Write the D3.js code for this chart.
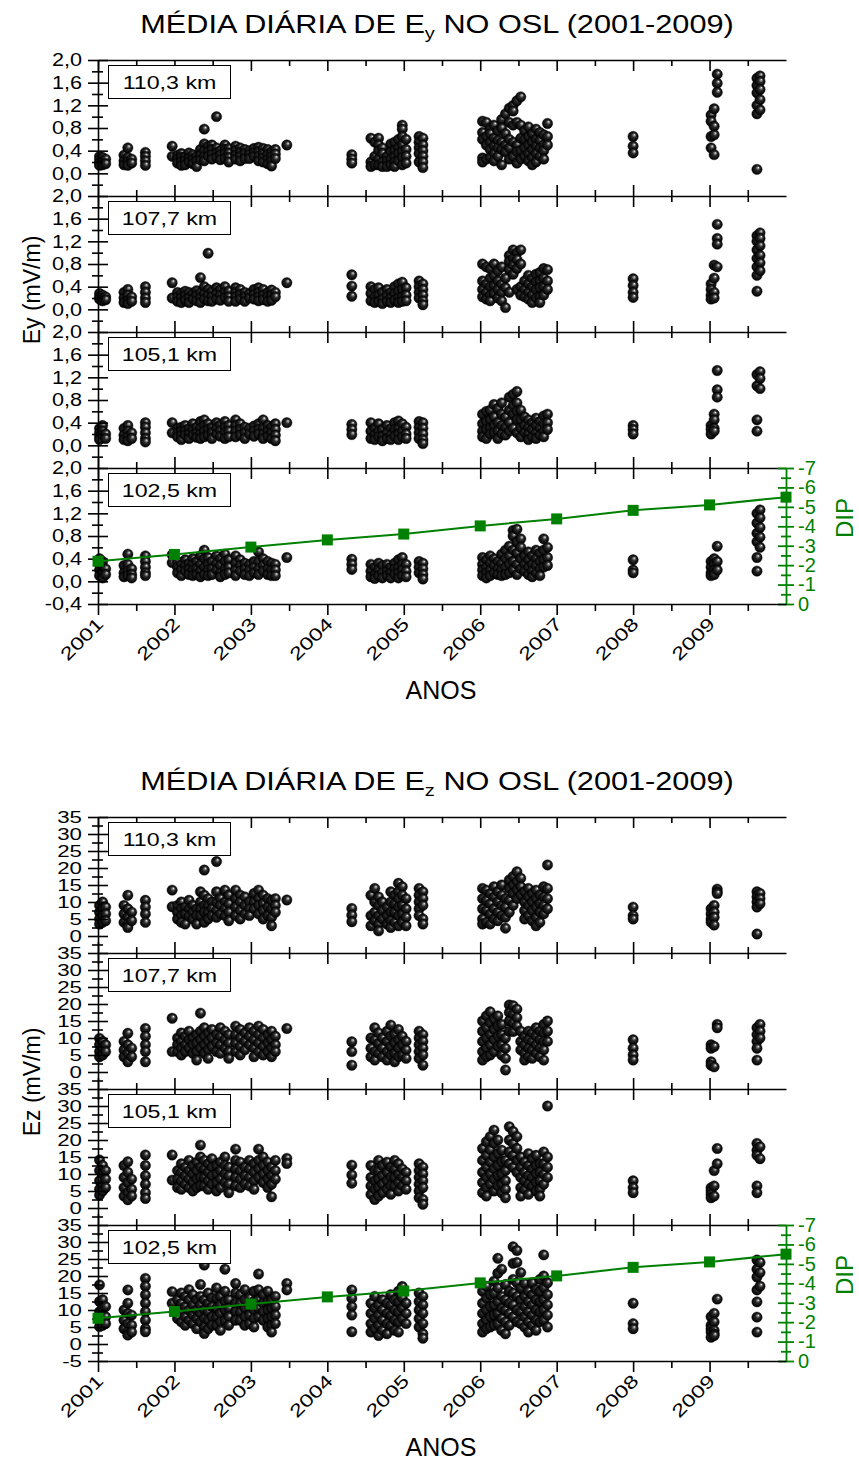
<!DOCTYPE html>
<html>
<head>
<meta charset="utf-8">
<script src="https://cdn.jsdelivr.net/npm/d3@7"></script>
<style>
    body { margin: 0; background: #fff; }
    svg { display: block; font-family: "Liberation Sans", Arial, sans-serif; }
</style>
</head>
<body>
<div id="chart"></div>
<script>
(function () {
    var width = 859,
        height = 1461;

    // x axis years and DIP values (one per year)
    var years = [2001, 2002, 2003, 2004, 2005, 2006, 2007, 2008, 2009];
    var dipYears = [2001, 2002, 2003, 2004, 2005, 2006, 2007, 2008, 2009, 2010];
    var dipValues = [-2.2, -2.55, -2.93, -3.3, -3.6, -4.02, -4.38, -4.82, -5.1, -5.5];
    var dipTicks = [0, -1, -2, -3, -4, -5, -6, -7];
    var heightLabels = ["110,3 km", "107,7 km", "105,1 km", "102,5 km"];

    var eyTicks = [-0.4, 0, 0.4, 0.8, 1.2, 1.6, 2.0];
    var eyMinor = [-0.2, 0.2, 0.6, 1.0, 1.4, 1.8];
    var ezTicks = [-5, 0, 5, 10, 15, 20, 25, 30, 35];
    var ezMinor = [-2.5, 2.5, 7.5, 12.5, 17.5, 22.5, 27.5, 32.5];

    // daily means, one column per date: [year, value, value, ...]
    var ey110 = [
        [2001.02, 0.3, 0.24, 0.18, 0.14], [2001.06, 0.28, 0.2, 0.15], [2001.1, 0.25, 0.17],
        [2001.34, 0.32, 0.22, 0.15], [2001.39, 0.45, 0.28, 0.2, 0.14], [2001.44, 0.25, 0.18],
        [2001.62, 0.37, 0.3, 0.22, 0.14], [2001.97, 0.48, 0.3],
        [2002.04, 0.32, 0.25, 0.18], [2002.09, 0.35, 0.28, 0.2, 0.14], [2002.14, 0.3, 0.22, 0.15],
        [2002.19, 0.36, 0.27, 0.2], [2002.24, 0.33, 0.25, 0.17], [2002.29, 0.3, 0.22, 0.12],
        [2002.34, 0.42, 0.32, 0.24], [2002.39, 0.78, 0.52, 0.4, 0.3, 0.22], [2002.44, 0.48, 0.38, 0.3],
        [2002.49, 0.5, 0.42, 0.33, 0.25], [2002.55, 1.0, 0.45, 0.36, 0.28], [2002.6, 0.4, 0.32, 0.24],
        [2002.66, 0.5, 0.42, 0.35, 0.26], [2002.71, 0.44, 0.36, 0.28, 0.2], [2002.8, 0.48, 0.4, 0.32, 0.25],
        [2002.86, 0.45, 0.37, 0.3, 0.22], [2002.92, 0.42, 0.35, 0.26], [2002.98, 0.4, 0.33, 0.26],
        [2003.04, 0.44, 0.36, 0.3], [2003.1, 0.46, 0.38, 0.3, 0.22], [2003.16, 0.44, 0.35, 0.27, 0.2],
        [2003.22, 0.42, 0.33, 0.25, 0.17], [2003.27, 0.38, 0.3, 0.22, 0.13], [2003.32, 0.42, 0.34, 0.26],
        [2003.47, 0.5], [2004.32, 0.33, 0.25, 0.18],
        [2004.57, 0.62, 0.2, 0.12], [2004.62, 0.55, 0.3, 0.15], [2004.67, 0.62, 0.5, 0.4, 0.25, 0.15],
        [2004.72, 0.45, 0.35, 0.2, 0.12], [2004.78, 0.3, 0.22, 0.12], [2004.83, 0.52, 0.38, 0.25, 0.15],
        [2004.88, 0.55, 0.4, 0.3, 0.2, 0.12], [2004.93, 0.6, 0.45, 0.35, 0.22],
        [2004.98, 0.85, 0.78, 0.65, 0.5, 0.38, 0.28, 0.15], [2005.03, 0.6, 0.42, 0.3, 0.18],
        [2005.2, 0.65, 0.55, 0.45, 0.35, 0.2], [2005.25, 0.62, 0.5, 0.4, 0.3, 0.2, 0.1],
        [2006.03, 0.92, 0.72, 0.6, 0.27, 0.2], [2006.08, 0.9, 0.65, 0.5, 0.25], [2006.13, 0.8, 0.7, 0.55, 0.42, 0.28],
        [2006.18, 0.85, 0.62, 0.48, 0.35, 0.22], [2006.23, 0.75, 0.58, 0.45, 0.3], [2006.28, 0.95, 0.8, 0.55, 0.42, 0.15],
        [2006.33, 1.05, 0.7, 0.5, 0.38], [2006.38, 1.15, 0.9, 0.6, 0.45, 0.25], [2006.43, 1.2, 1.1, 0.85, 0.55, 0.3],
        [2006.48, 1.28, 0.9, 0.5, 0.38, 0.18], [2006.53, 1.35, 0.85, 0.62, 0.4, 0.25], [2006.58, 0.75, 0.6, 0.45, 0.3],
        [2006.63, 0.82, 0.65, 0.5, 0.35, 0.22], [2006.68, 0.7, 0.55, 0.42, 0.28, 0.15], [2006.73, 0.78, 0.6, 0.48, 0.35, 0.2],
        [2006.78, 0.72, 0.58, 0.45, 0.3], [2006.83, 0.68, 0.5, 0.4, 0.25], [2006.88, 0.88, 0.65, 0.5],
        [2008.0, 0.65, 0.48, 0.36],
        [2009.02, 1.03, 0.92, 0.65, 0.45], [2009.06, 1.14, 0.83, 0.68, 0.33], [2009.1, 1.75, 1.59, 1.43],
        [2009.62, 1.68, 1.55, 1.42, 1.2, 1.05, 0.07], [2009.66, 1.72, 1.62, 1.48, 1.3, 1.12]
    ];
    var ey107 = [
        [2001.02, 0.28, 0.22, 0.18], [2001.06, 0.25, 0.2, 0.15], [2001.1, 0.22, 0.17],
        [2001.34, 0.3, 0.2, 0.12], [2001.39, 0.35, 0.25, 0.15, 0.1], [2001.44, 0.22, 0.14],
        [2001.62, 0.4, 0.3, 0.2, 0.12], [2001.97, 0.47, 0.2],
        [2002.04, 0.3, 0.22, 0.14], [2002.09, 0.28, 0.2, 0.12], [2002.14, 0.32, 0.24, 0.16],
        [2002.19, 0.3, 0.2, 0.12], [2002.24, 0.28, 0.18], [2002.29, 0.33, 0.25, 0.15],
        [2002.34, 0.56, 0.3, 0.2, 0.12], [2002.39, 0.4, 0.28, 0.18], [2002.44, 0.99, 0.35, 0.25, 0.15],
        [2002.49, 0.32, 0.22, 0.14], [2002.55, 0.38, 0.28, 0.18], [2002.6, 0.35, 0.25, 0.16],
        [2002.66, 0.4, 0.3, 0.2], [2002.71, 0.32, 0.22, 0.14], [2002.8, 0.38, 0.3, 0.22, 0.14],
        [2002.86, 0.35, 0.26, 0.18], [2002.92, 0.3, 0.22, 0.14], [2002.98, 0.28, 0.2],
        [2003.04, 0.35, 0.26, 0.18], [2003.1, 0.38, 0.3, 0.22, 0.15], [2003.16, 0.35, 0.25, 0.17],
        [2003.22, 0.3, 0.22, 0.14], [2003.27, 0.34, 0.25, 0.16], [2003.32, 0.3, 0.22],
        [2003.47, 0.47], [2004.32, 0.61, 0.41, 0.23],
        [2004.57, 0.4, 0.28, 0.15], [2004.62, 0.35, 0.22, 0.12], [2004.67, 0.38, 0.25, 0.14],
        [2004.72, 0.3, 0.18, 0.1], [2004.78, 0.35, 0.24, 0.14], [2004.83, 0.3, 0.2, 0.12],
        [2004.88, 0.4, 0.28, 0.16], [2004.93, 0.45, 0.32, 0.2, 0.12], [2004.98, 0.48, 0.35, 0.22, 0.14],
        [2005.03, 0.38, 0.25, 0.15], [2005.2, 0.5, 0.4, 0.3, 0.2], [2005.25, 0.45, 0.35, 0.25, 0.15, 0.08],
        [2006.03, 0.8, 0.5, 0.35, 0.22], [2006.08, 0.75, 0.45, 0.3, 0.18], [2006.13, 0.72, 0.55, 0.4, 0.25, 0.15],
        [2006.18, 0.8, 0.6, 0.42, 0.28], [2006.23, 0.68, 0.5, 0.35, 0.2], [2006.28, 0.75, 0.45, 0.3, 0.15],
        [2006.33, 0.55, 0.38, 0.03], [2006.38, 0.95, 0.85, 0.7, 0.3], [2006.43, 1.05, 0.9, 0.78, 0.62],
        [2006.48, 1.0, 0.88, 0.72, 0.35], [2006.53, 1.05, 0.8, 0.4, 0.25], [2006.58, 0.5, 0.35, 0.22],
        [2006.63, 0.6, 0.45, 0.3, 0.18], [2006.68, 0.55, 0.4, 0.25, 0.12], [2006.73, 0.62, 0.48, 0.35, 0.2],
        [2006.78, 0.65, 0.5, 0.38, 0.22, 0.12], [2006.83, 0.72, 0.55, 0.4, 0.25], [2006.88, 0.7, 0.5, 0.35],
        [2008.0, 0.54, 0.42, 0.3, 0.21],
        [2009.02, 0.45, 0.35, 0.25, 0.18], [2009.06, 0.78, 0.55, 0.3, 0.2], [2009.1, 1.5, 1.25, 1.15, 0.75],
        [2009.62, 1.3, 1.2, 1.05, 0.9, 0.75, 0.6, 0.32], [2009.66, 1.35, 1.25, 1.12, 0.95, 0.82, 0.68]
    ];
    var ey105 = [
        [2001.02, 0.3, 0.22, 0.15, 0.1], [2001.06, 0.35, 0.25, 0.18], [2001.1, 0.2, 0.12],
        [2001.34, 0.3, 0.18, 0.1], [2001.39, 0.35, 0.25, 0.15, 0.08], [2001.44, 0.22, 0.12],
        [2001.62, 0.4, 0.32, 0.22, 0.12, 0.06], [2001.97, 0.4, 0.22],
        [2002.04, 0.3, 0.22, 0.15], [2002.09, 0.32, 0.25, 0.18, 0.1], [2002.14, 0.35, 0.26, 0.18],
        [2002.19, 0.3, 0.2, 0.12], [2002.24, 0.38, 0.28, 0.18], [2002.29, 0.32, 0.22, 0.14],
        [2002.34, 0.42, 0.3, 0.2, 0.12], [2002.39, 0.45, 0.35, 0.25, 0.15], [2002.44, 0.38, 0.28, 0.18],
        [2002.49, 0.32, 0.22, 0.12], [2002.55, 0.4, 0.3, 0.2], [2002.6, 0.36, 0.26, 0.16],
        [2002.66, 0.42, 0.32, 0.22, 0.12], [2002.71, 0.35, 0.25, 0.15], [2002.8, 0.45, 0.35, 0.25, 0.15],
        [2002.86, 0.38, 0.28, 0.18], [2002.92, 0.32, 0.22, 0.12], [2002.98, 0.3, 0.2],
        [2003.04, 0.34, 0.25, 0.16], [2003.1, 0.38, 0.28, 0.2], [2003.16, 0.45, 0.3, 0.2, 0.12],
        [2003.22, 0.35, 0.25, 0.16], [2003.27, 0.32, 0.22, 0.12], [2003.32, 0.38, 0.28, 0.18, 0.08],
        [2003.47, 0.4], [2004.32, 0.37, 0.28, 0.19],
        [2004.57, 0.4, 0.25, 0.12], [2004.62, 0.3, 0.18, 0.1], [2004.67, 0.38, 0.25, 0.15],
        [2004.72, 0.28, 0.16, 0.08], [2004.78, 0.35, 0.22, 0.12], [2004.83, 0.3, 0.18, 0.1],
        [2004.88, 0.4, 0.28, 0.16], [2004.93, 0.43, 0.3, 0.2, 0.1], [2004.98, 0.38, 0.25, 0.15],
        [2005.03, 0.32, 0.2, 0.12], [2005.2, 0.42, 0.32, 0.22, 0.12], [2005.25, 0.4, 0.3, 0.2, 0.1, 0.03],
        [2006.03, 0.55, 0.38, 0.25, 0.15], [2006.08, 0.6, 0.42, 0.28, 0.12], [2006.13, 0.62, 0.45, 0.3, 0.2],
        [2006.18, 0.72, 0.5, 0.35, 0.22], [2006.23, 0.65, 0.4, 0.25, 0.12], [2006.28, 0.75, 0.55, 0.35, 0.2],
        [2006.33, 0.5, 0.32, 0.18], [2006.38, 0.85, 0.62, 0.4, 0.25], [2006.43, 0.9, 0.7, 0.55, 0.3],
        [2006.48, 0.95, 0.75, 0.6, 0.45, 0.22], [2006.53, 0.62, 0.45, 0.3, 0.15], [2006.58, 0.5, 0.35, 0.22],
        [2006.63, 0.45, 0.32, 0.2, 0.1], [2006.68, 0.4, 0.28, 0.15], [2006.73, 0.48, 0.35, 0.22, 0.12],
        [2006.78, 0.42, 0.3, 0.18], [2006.83, 0.52, 0.38, 0.25, 0.15], [2006.88, 0.55, 0.4, 0.28],
        [2008.0, 0.35, 0.28, 0.2],
        [2009.02, 0.35, 0.28, 0.2], [2009.06, 0.55, 0.45, 0.3, 0.25], [2009.1, 1.32, 0.98, 0.85],
        [2009.62, 1.25, 1.05, 0.45, 0.25], [2009.66, 1.3, 1.18, 1.0]
    ];
    var ey102 = [
        [2001.02, 0.4, 0.3, 0.2, 0.1], [2001.06, 0.35, 0.25, 0.15, 0.06], [2001.1, 0.22, 0.12],
        [2001.34, 0.28, 0.15, 0.08], [2001.39, 0.48, 0.3, 0.18, 0.1], [2001.44, 0.22, 0.12, 0.06],
        [2001.62, 0.45, 0.35, 0.25, 0.15, 0.1], [2001.97, 0.47, 0.33],
        [2002.04, 0.35, 0.25, 0.15], [2002.09, 0.3, 0.2, 0.1], [2002.14, 0.38, 0.28, 0.18],
        [2002.19, 0.32, 0.22, 0.12], [2002.24, 0.4, 0.3, 0.2, 0.1], [2002.29, 0.35, 0.22, 0.12],
        [2002.34, 0.45, 0.3, 0.18, 0.08], [2002.39, 0.55, 0.4, 0.25, 0.12], [2002.44, 0.42, 0.3, 0.2, 0.1],
        [2002.49, 0.35, 0.22, 0.12], [2002.55, 0.45, 0.32, 0.2], [2002.6, 0.4, 0.28, 0.15, 0.08],
        [2002.66, 0.48, 0.35, 0.22, 0.12], [2002.71, 0.38, 0.25, 0.15], [2002.8, 0.45, 0.32, 0.2, 0.1],
        [2002.86, 0.38, 0.28, 0.18], [2002.92, 0.32, 0.22, 0.12], [2002.98, 0.3, 0.2, 0.1],
        [2003.04, 0.35, 0.25, 0.15], [2003.1, 0.52, 0.35, 0.22, 0.12], [2003.16, 0.4, 0.28, 0.18],
        [2003.22, 0.35, 0.22, 0.12], [2003.27, 0.32, 0.2, 0.1], [2003.32, 0.3, 0.2, 0.1],
        [2003.47, 0.42], [2004.32, 0.39, 0.3, 0.21],
        [2004.57, 0.3, 0.18, 0.08], [2004.62, 0.25, 0.12, 0.05], [2004.67, 0.32, 0.2, 0.1],
        [2004.72, 0.28, 0.15, 0.06], [2004.78, 0.3, 0.18, 0.1], [2004.83, 0.25, 0.15, 0.06],
        [2004.88, 0.32, 0.22, 0.12], [2004.93, 0.38, 0.25, 0.15, 0.06], [2004.98, 0.42, 0.3, 0.2, 0.1],
        [2005.03, 0.3, 0.18, 0.08], [2005.2, 0.35, 0.25, 0.15], [2005.25, 0.32, 0.22, 0.12, 0.04],
        [2006.03, 0.42, 0.3, 0.2, 0.1], [2006.08, 0.38, 0.25, 0.15, 0.06], [2006.13, 0.45, 0.32, 0.2, 0.1],
        [2006.18, 0.4, 0.28, 0.15], [2006.23, 0.35, 0.22, 0.12], [2006.28, 0.48, 0.32, 0.2, 0.1],
        [2006.33, 0.55, 0.4, 0.25, 0.12], [2006.38, 0.62, 0.45, 0.3, 0.15], [2006.43, 0.9, 0.8, 0.55, 0.35, 0.2],
        [2006.48, 0.92, 0.7, 0.5, 0.3, 0.12], [2006.53, 0.75, 0.6, 0.4, 0.22], [2006.58, 0.45, 0.3, 0.18],
        [2006.63, 0.52, 0.38, 0.25, 0.12], [2006.68, 0.45, 0.3, 0.18, 0.08], [2006.73, 0.55, 0.4, 0.28, 0.15],
        [2006.78, 0.5, 0.35, 0.22, 0.1], [2006.83, 0.75, 0.55, 0.38, 0.25], [2006.88, 0.6, 0.42, 0.28],
        [2008.0, 0.38, 0.2, 0.15],
        [2009.02, 0.35, 0.25, 0.15, 0.1], [2009.06, 0.4, 0.3, 0.2, 0.12], [2009.1, 0.62, 0.35, 0.2],
        [2009.62, 1.2, 1.03, 0.85, 0.7, 0.42, 0.18], [2009.66, 1.26, 1.12, 0.95, 0.78, 0.6]
    ];

    var ez110 = [
        [2001.02, 9, 7, 5, 3.5], [2001.06, 10, 8, 6, 4], [2001.1, 8.5, 6.5, 4.5],
        [2001.34, 9, 6.5, 4], [2001.39, 12, 8, 5.5, 3.5, 2.5], [2001.44, 7, 4.5],
        [2001.62, 10.5, 8.5, 6.5, 4], [2001.97, 13.5, 8.6],
        [2002.04, 9, 7, 5], [2002.09, 10, 8, 6, 4], [2002.14, 8.5, 6.5, 3.5],
        [2002.19, 10.5, 8, 6], [2002.24, 9, 7, 5], [2002.29, 8, 6, 3.5],
        [2002.34, 13, 10, 8, 6], [2002.39, 19.4, 12, 9, 7, 4], [2002.44, 11, 9, 7, 5],
        [2002.49, 10, 8, 6], [2002.55, 21.9, 13, 10, 7.5, 5.5], [2002.6, 11, 9, 6.5],
        [2002.66, 13.5, 10, 8, 6], [2002.71, 12, 9.5, 7, 4.5], [2002.8, 13.5, 11, 8.5, 6],
        [2002.86, 12, 10, 7.5, 5], [2002.92, 11.5, 9, 6.5], [2002.98, 10, 8, 6],
        [2003.04, 12.5, 10, 8], [2003.1, 13.5, 11, 9, 6.5], [2003.16, 12, 9.5, 7.5, 5],
        [2003.22, 11, 8.5, 6], [2003.27, 10.5, 8, 5.5, 3], [2003.32, 11, 9, 7],
        [2003.47, 10.6], [2004.32, 8.1, 6.1, 4.2],
        [2004.57, 12, 6, 3], [2004.62, 14, 10, 7, 4.5], [2004.67, 11.5, 9, 6, 3.5, 1.5],
        [2004.72, 10, 7.5, 5], [2004.78, 8.5, 6, 3.5], [2004.83, 13, 10, 7, 4.5, 2.5],
        [2004.88, 12, 9.5, 7, 4], [2004.93, 15.5, 13, 11, 8.5, 6, 3], [2004.98, 14.5, 12, 9, 6.5, 4],
        [2005.03, 11, 8, 5.5, 3], [2005.2, 14, 12, 10, 8, 6], [2005.25, 13, 11, 9, 5, 3.5],
        [2006.03, 14, 11, 8, 5, 3.5], [2006.08, 13.5, 10.5, 7.5, 4], [2006.13, 12.5, 9.5, 6.5, 3.5],
        [2006.18, 14.5, 11.5, 8, 5], [2006.23, 13, 10, 7, 4.5], [2006.28, 15, 12, 9, 6],
        [2006.33, 11, 8.5, 5.5, 2.3], [2006.38, 16.5, 14, 10.5, 7], [2006.43, 17.5, 15, 12.5, 9],
        [2006.48, 18.9, 16, 13.5, 11], [2006.53, 17, 14.5, 12], [2006.58, 13, 10, 7.5, 5],
        [2006.63, 14, 11.5, 9, 6], [2006.68, 12.5, 10, 7.5, 4.5], [2006.73, 13.5, 11, 8.5, 5.5, 3],
        [2006.78, 12, 9.5, 7, 4], [2006.83, 14.5, 11.5, 9, 6.5], [2006.88, 20.9, 14, 11, 8],
        [2008.0, 8.5, 6, 5],
        [2009.02, 8, 6.5, 5, 4], [2009.06, 9, 7, 5.5, 3.2], [2009.1, 13.8, 13, 12.5],
        [2009.62, 13, 11.5, 10, 8.5, 0.6], [2009.66, 12.5, 11, 9.5]
    ];
    var ez107 = [
        [2001.02, 9.9, 8, 6, 4.5], [2001.06, 9, 7, 5], [2001.1, 8, 6],
        [2001.34, 9, 6.5, 4.5], [2001.39, 11.4, 8, 5.5, 3], [2001.44, 7, 4.5],
        [2001.62, 12.8, 10.5, 8, 6, 3], [2001.97, 15.8, 6],
        [2002.04, 10, 8, 6], [2002.09, 11.5, 9, 7, 5], [2002.14, 10.5, 8, 6],
        [2002.19, 12, 9.5, 7], [2002.24, 10, 8, 5.5], [2002.29, 11, 8.5, 6, 3.5],
        [2002.34, 17.3, 12, 9.5, 7], [2002.39, 13, 10.5, 8, 5.5], [2002.44, 11.5, 9, 6.5, 4],
        [2002.49, 12.5, 10, 7.5], [2002.55, 11, 8.5, 6], [2002.6, 13, 10.5, 8, 5.5],
        [2002.66, 12, 9.5, 7], [2002.71, 11, 8.5, 6, 4], [2002.8, 13.5, 11, 8.5, 6],
        [2002.86, 12.5, 10, 7.5, 5], [2002.92, 11.5, 9, 6.5], [2002.98, 13, 10.5, 8],
        [2003.04, 12, 9.5, 7, 4.5], [2003.1, 13.5, 11, 8.5, 6], [2003.16, 12.5, 10, 7.5, 5],
        [2003.22, 11, 8.5, 6], [2003.27, 12, 9.5, 7, 4.5], [2003.32, 10.5, 8, 6],
        [2003.47, 12.8], [2004.32, 8.9, 6, 2],
        [2004.57, 10, 7, 4.5], [2004.62, 13, 9.5, 6, 3.5], [2004.67, 11.5, 8.5, 5.5],
        [2004.72, 10, 7, 4.5], [2004.78, 12, 9, 6, 3.5], [2004.83, 13.8, 10.5, 7.5, 5],
        [2004.88, 11, 8.5, 5.5, 3], [2004.93, 12.5, 9.5, 7, 4.5], [2004.98, 10.5, 8, 5],
        [2005.03, 9, 6.5, 4], [2005.2, 12, 10, 8, 6, 4], [2005.25, 11, 9, 7, 5, 2],
        [2006.03, 15, 12, 9, 6, 3.5], [2006.08, 16.5, 13, 10, 7, 4.5], [2006.13, 17.7, 14.5, 11, 8, 5],
        [2006.18, 15.5, 12.5, 9.5, 6], [2006.23, 16.5, 13.5, 10.5, 7.5], [2006.28, 14, 11, 8, 5],
        [2006.33, 10, 7, 4, 0.6], [2006.38, 19.7, 17.5, 15, 12], [2006.43, 19.5, 17, 14.5, 11.9],
        [2006.48, 18.5, 16, 13.5], [2006.53, 12, 9, 6.5], [2006.58, 10.5, 8, 5.5, 3.5],
        [2006.63, 12, 9.5, 7, 4.5], [2006.68, 11.5, 9, 6.5, 4], [2006.73, 13, 10.5, 8, 5.5],
        [2006.78, 12, 9.5, 7, 4.5], [2006.83, 14, 11.5, 9, 6.5, 3.5], [2006.88, 15, 12, 9],
        [2008.0, 9.5, 7, 5, 3.5],
        [2009.02, 8, 7, 3, 2], [2009.06, 7.5, 1.5], [2009.1, 14, 13],
        [2009.62, 13, 11, 9, 7, 3.5], [2009.66, 14, 12, 10]
    ];
    var ez105 = [
        [2001.02, 14.1, 11, 8, 5.5, 3.8], [2001.06, 12.5, 10, 7, 5], [2001.1, 11, 8.5, 6],
        [2001.34, 12.5, 9, 6, 3.5], [2001.39, 13.6, 10.5, 7.5, 4.5, 2.4], [2001.44, 8.5, 5.5, 3.5],
        [2001.62, 15.6, 12.5, 9.5, 7, 4.5, 2.8], [2001.97, 15.6, 8.2],
        [2002.04, 11, 8.5, 6], [2002.09, 13, 10.5, 8, 5.5], [2002.14, 12, 9.5, 7],
        [2002.19, 14, 11, 8.5, 6], [2002.24, 12.5, 10, 7.5, 5], [2002.29, 13.5, 11, 8.5, 6],
        [2002.34, 18.5, 15, 12, 9, 6.5], [2002.39, 14, 11.5, 9, 6.5], [2002.44, 13, 10.5, 8, 5.5],
        [2002.49, 14.5, 12, 9.5, 7], [2002.55, 12.5, 10, 7.5, 5], [2002.6, 13.5, 11, 8.5, 6],
        [2002.66, 15, 12.5, 10, 7.5], [2002.71, 12, 9.5, 7, 4.5], [2002.8, 17.3, 14, 11.5, 9, 6.5],
        [2002.86, 13.5, 11, 8.5, 6], [2002.92, 12, 9.5, 7], [2002.98, 14, 11.5, 9, 6.5],
        [2003.04, 13, 10.5, 8, 5.5], [2003.1, 17.3, 14, 11.5, 9], [2003.16, 15, 12.5, 10, 7.5],
        [2003.22, 13.5, 11, 8.5, 6], [2003.27, 12, 9.5, 7, 3.3], [2003.32, 14, 11, 8.5],
        [2003.47, 14.6, 13.1], [2004.32, 12.6, 9.7, 7.3],
        [2004.57, 12.5, 9, 6.5, 4], [2004.62, 11, 8, 5.5, 2.5], [2004.67, 14, 11, 8.5, 6, 3.5],
        [2004.72, 12.5, 9.5, 7, 4.5], [2004.78, 13.5, 10.5, 8, 5.5], [2004.83, 12, 9, 6.5, 4],
        [2004.88, 14, 11.5, 9, 6.5], [2004.93, 13, 10, 7.5, 5], [2004.98, 11.5, 9, 6.5],
        [2005.03, 10.5, 8, 5.5], [2005.2, 13, 11, 9, 7, 5, 3], [2005.25, 12, 10, 8, 6, 2.5, 1.1],
        [2006.03, 17.5, 14, 10.5, 7.5, 4.5], [2006.08, 19.5, 15.5, 12, 9, 6, 3.5], [2006.13, 21, 17.1, 13.5, 10, 7],
        [2006.18, 22.9, 19, 15, 11.5, 8.5, 5], [2006.23, 20, 16, 12.5, 9.5, 6.5], [2006.28, 17, 13.5, 10, 7, 4.5],
        [2006.33, 14, 11, 8, 5.5, 3], [2006.38, 23.9, 20, 16.5, 13], [2006.43, 22.5, 19, 15.5, 12],
        [2006.48, 21, 17.5, 14, 10.5], [2006.53, 15, 12, 9, 6, 3.5], [2006.58, 13.5, 10.5, 8, 5.5],
        [2006.63, 16, 12.5, 9.5, 7, 4], [2006.68, 14.5, 11.5, 9, 6.5], [2006.73, 15.5, 12.5, 10, 7.5, 5],
        [2006.78, 13, 10.5, 8, 5.5, 3.5], [2006.83, 16.5, 13, 10, 7], [2006.88, 30, 15, 12, 9],
        [2008.0, 8, 6, 4.5],
        [2009.02, 6, 5, 4, 3], [2009.06, 11, 6.5, 3.5], [2009.1, 17.5, 13],
        [2009.62, 19, 17, 15.5, 6.5, 4.5], [2009.66, 18, 14.5]
    ];
    var ez102 = [
        [2001.02, 17.4, 12.5, 9.5, 7, 5.1], [2001.06, 13, 10.5, 8, 5.5], [2001.1, 11, 8, 6],
        [2001.34, 10, 7, 4.5], [2001.39, 15.9, 12, 9, 6, 3.5, 2.6], [2001.44, 8.5, 5.5, 3.5],
        [2001.62, 19.3, 17, 14.5, 12, 9.5, 7, 4.5, 3.6], [2001.97, 15.4, 12],
        [2002.04, 13, 10, 7.5], [2002.09, 15, 12, 9.5, 6.5], [2002.14, 14, 11, 8, 5.5],
        [2002.19, 16, 13, 10, 7], [2002.24, 14.5, 11.5, 8.5, 6], [2002.29, 13, 10, 7.5, 4.5],
        [2002.34, 17.5, 14, 11.5, 9, 6.5], [2002.39, 23.2, 13, 10, 7.5, 5, 3.1], [2002.44, 15, 12, 9.5, 7, 4.5],
        [2002.49, 13.5, 11, 8, 5.5], [2002.55, 16.5, 13.5, 10.5, 8, 5.5], [2002.6, 14, 11.5, 9, 6.5, 4],
        [2002.66, 22, 15.5, 12.5, 10, 7], [2002.71, 13, 10.5, 8, 5.5], [2002.8, 17.8, 15, 12, 9.5, 7],
        [2002.86, 14.5, 12, 9.5, 7], [2002.92, 16, 13, 10.5, 8, 5.5], [2002.98, 13.5, 11, 8.5, 6],
        [2003.04, 15.5, 12.5, 10, 7.5, 5], [2003.1, 20.6, 16, 13, 10.5, 8], [2003.16, 14.5, 12, 9.5, 7],
        [2003.22, 15.5, 12.5, 10, 7.5, 5], [2003.27, 13, 10.5, 8, 5.5, 3.5], [2003.32, 14, 11, 8.5, 6],
        [2003.47, 17.8, 15.9], [2004.32, 15.9, 13.4, 11, 8.5, 3.6],
        [2004.57, 12, 9, 6, 3.5], [2004.62, 14, 10.5, 7.5, 4.5], [2004.67, 11.5, 8.5, 5.5, 2.5],
        [2004.72, 13, 10, 7, 4], [2004.78, 12, 9, 6, 3], [2004.83, 14.5, 11.5, 8.5, 5.5],
        [2004.88, 13, 10, 7, 4], [2004.93, 15.5, 12.5, 9.5, 6.5, 3.5], [2004.98, 16.9, 13.5, 10.5, 7.5],
        [2005.03, 12, 9, 6], [2005.2, 15, 12.5, 10, 7.5, 5], [2005.25, 14, 11.5, 9, 6, 3, 1.7],
        [2006.03, 15.5, 12, 9, 6, 3.5], [2006.08, 17, 13.5, 10, 7, 4.5], [2006.13, 14.5, 11, 8, 5],
        [2006.18, 18.5, 15, 11.5, 8.5, 5.5], [2006.23, 25.2, 20.8, 16.5, 12.5, 9, 6], [2006.28, 22, 14, 10.5, 7.5, 4],
        [2006.33, 17.5, 13, 10, 6.5, 3], [2006.38, 15.5, 12, 9, 5.5], [2006.43, 28.6, 23.7, 19, 15, 11.5, 8],
        [2006.48, 27.5, 24, 18, 14, 10, 6.5], [2006.53, 21, 16.5, 13, 9.5, 6], [2006.58, 17.8, 14, 11, 8, 5],
        [2006.63, 15.5, 12.5, 9.5, 6.5, 3.5], [2006.68, 18, 14.5, 11.5, 8.5, 5.5], [2006.73, 16, 13, 10, 7, 4],
        [2006.78, 19, 15.5, 12.5, 9.5, 6.5], [2006.83, 26.2, 20, 16.5, 13, 10, 7], [2006.88, 18, 14.5, 11.5, 8.5, 5],
        [2008.0, 12, 6, 4.5],
        [2009.02, 8, 5.5, 4.5, 3.5, 2], [2009.06, 9, 6.5, 4, 3, 2.5], [2009.1, 13.2],
        [2009.62, 24.7, 22, 19.7, 15.9, 12.4, 7.9, 3.5], [2009.66, 24, 21, 17]
    ];

    var green = "#008000";
    var panelH = 136;

    var svg = d3.select("#chart")
        .append("svg")
        .attr("width", width)
        .attr("height", height);

    var defs = svg.append("defs");
    var grad = defs.append("radialGradient")
        .attr("id", "ball")
        .attr("cx", 0.5).attr("cy", 0.5).attr("r", 0.5)
        .attr("fx", 0.64).attr("fy", 0.32);
    grad.append("stop").attr("offset", "0").attr("stop-color", "#ffffff");
    grad.append("stop").attr("offset", "0.14").attr("stop-color", "#9a9a9a");
    grad.append("stop").attr("offset", "0.42").attr("stop-color", "#2a2a2a");
    grad.append("stop").attr("offset", "1").attr("stop-color", "#000000");

    var x = d3.scaleLinear().domain([2001, 2010]).range([98, 786]);
    var halfYears = years.map(function (d) { return d + 0.5; });

    // stretch a text horizontally, the source figure is wider than tall
    function stretch(sel, k) {
        sel.each(function () {
            var w = this.getComputedTextLength();
            if (w > 0) {
                d3.select(this).attr("textLength", w * k).attr("lengthAdjust", "spacingAndGlyphs");
            }
        });
    }

    function flatten(cols) {
        var out = [];
        cols.forEach(function (c) {
            for (var j = 1; j < c.length; j++) {
                out.push({year: c[0], v: c[j]});
            }
        });
        return out;
    }

    function drawChart(opt) {
        var top = opt.top;
        var bottom = top + 4 * panelH;
        var g = svg.append("g");

        // title with subscript
        var title = g.append("text")
            .attr("transform", "translate(437," + (top - 27) + ") scale(1.18,1)")
            .attr("text-anchor", "middle")
            .style("font-size", "26px");
        title.append("tspan").text("MÉDIA DIÁRIA DE E");
        title.append("tspan").attr("dy", 6).style("font-size", "17px").text(opt.sub);
        title.append("tspan").attr("dy", -6).text(" NO OSL (2001-2009)");

        opt.panels.forEach(function (cols, i) {
            var pTop = top + i * panelH;
            var y = d3.scaleLinear().domain(opt.domain).range([pTop + panelH, pTop]);

            // points
            g.append("g").selectAll(".ball")
                .data(flatten(cols))
                .enter().append("circle")
                .attr("class", "ball")
                .attr("cx", function (d) { return x(d.year); })
                .attr("cy", function (d) { return y(d.v); })
                .attr("r", 5.2)
                .attr("fill", "url(#ball)")
                .attr("stroke", "#000")
                .attr("stroke-width", 0.4);

            // left axis
            var vals = i === 3 ? opt.ticks : opt.ticks.slice(1);
            var ax = g.append("g")
                .attr("transform", "translate(98,0)")
                .call(d3.axisLeft(y).tickValues(vals).tickSize(10).tickSizeOuter(0).tickPadding(6).tickFormat(opt.fmt));
            ax.selectAll(".tick line").attr("x1", 10);
            ax.selectAll("path, line").attr("stroke-width", 1.6);
            ax.selectAll("text").style("font-size", opt.fontSize + "px").attr("fill", "#000");
            stretch(ax.selectAll("text"), opt.stretch);

            var axm = g.append("g")
                .attr("transform", "translate(98,0)")
                .call(d3.axisLeft(y).tickValues(opt.minor).tickSize(6).tickFormat(""));
            axm.select(".domain").remove();
            axm.selectAll(".tick line").attr("x1", 5).attr("stroke-width", 1.6);

            // top edge of this panel, ticks go down, and up too between panels
            var xt = g.append("g")
                .attr("transform", "translate(0," + pTop + ")")
                .call(d3.axisBottom(x).tickValues(years).tickSize(11).tickSizeOuter(0).tickFormat(""));
            xt.selectAll(".tick line").attr("y1", i === 0 ? 0 : -11);
            xt.selectAll("path, line").attr("stroke-width", 1.6);
            var xtm = g.append("g")
                .attr("transform", "translate(0," + pTop + ")")
                .call(d3.axisBottom(x).tickValues(halfYears).tickSize(6).tickFormat(""));
            xtm.select(".domain").remove();
            xtm.selectAll(".tick line").attr("y1", i === 0 ? 0 : -6).attr("stroke-width", 1.6);

            // the DIP curve lives in the lowest panel
            if (i === 3) {
                var dipY = d3.scaleLinear().domain([0, -7]).range([bottom, pTop]);
                var line = d3.line()
                    .x(function (d, k) { return x(dipYears[k]); })
                    .y(function (d) { return dipY(d); });
                g.append("path")
                    .datum(dipValues)
                    .attr("d", line)
                    .attr("fill", "none")
                    .attr("stroke", green)
                    .attr("stroke-width", 2);
                g.append("g").selectAll("rect")
                    .data(dipValues)
                    .enter().append("rect")
                    .attr("x", function (d, k) { return x(dipYears[k]) - 5.5; })
                    .attr("y", function (d) { return dipY(d) - 5.5; })
                    .attr("width", 11)
                    .attr("height", 11)
                    .attr("fill", green);

                var ar = g.append("g")
                    .attr("transform", "translate(786,0)")
                    .call(d3.axisRight(dipY).tickValues(dipTicks).tickSize(8).tickSizeOuter(0).tickPadding(4)
                        .tickFormat(function (d) { return d < 0 ? "-" + Math.abs(d) : String(d); }));
                ar.selectAll(".tick line").attr("x1", -8);
                ar.selectAll("path, line").attr("stroke", green).attr("stroke-width", 1.8);
                ar.selectAll("text").attr("fill", green).style("font-size", "20px");
                var arm = g.append("g")
                    .attr("transform", "translate(786,0)")
                    .call(d3.axisRight(dipY).tickValues(d3.range(-0.5, -7, -1)).tickSize(5).tickFormat(""));
                arm.select(".domain").remove();
                arm.selectAll(".tick line").attr("x1", -5).attr("stroke", green).attr("stroke-width", 1.8);

                g.append("text")
                    .attr("transform", "translate(853," + (bottom - 86) + ") rotate(-90)")
                    .attr("text-anchor", "middle")
                    .attr("fill", green)
                    .style("font-size", "24px")
                    .text("DIP");
            }

            // height label box
            g.append("rect")
                .attr("x", 108.5)
                .attr("y", pTop + 5.5)
                .attr("width", 122)
                .attr("height", 33)
                .attr("fill", "#fff")
                .attr("stroke", "#000")
                .attr("stroke-width", 1);
            var lab = g.append("text")
                .attr("x", 169.5)
                .attr("y", pTop + 29)
                .attr("text-anchor", "middle")
                .style("font-size", "19px")
                .text(heightLabels[i]);
            stretch(lab, 1.22);
        });

        // bottom axis with year labels
        var xb = g.append("g")
            .attr("transform", "translate(0," + bottom + ")")
            .call(d3.axisBottom(x).tickValues(years).tickSize(11).tickSizeOuter(0).tickFormat(d3.format("d")));
        xb.selectAll("path, line").attr("stroke-width", 1.6);
        xb.selectAll("text")
            .attr("text-anchor", "end")
            .attr("dy", null)
            .attr("x", null)
            .attr("y", null)
            .attr("transform", "translate(6,21) rotate(-45)")
            .style("font-size", "18px");
        stretch(xb.selectAll("text"), 1.3);
        var xbm = g.append("g")
            .attr("transform", "translate(0," + bottom + ")")
            .call(d3.axisBottom(x).tickValues(halfYears).tickSize(7).tickFormat(""));
        xbm.select(".domain").remove();
        xbm.selectAll(".tick line").attr("stroke-width", 1.6);

        g.append("text")
            .attr("x", 441)
            .attr("y", bottom + 95)
            .attr("text-anchor", "middle")
            .style("font-size", "25px")
            .text("ANOS");

        g.append("text")
            .attr("transform", "translate(40," + (top + opt.labelMid) + ") rotate(-90)")
            .attr("text-anchor", "middle")
            .style("font-size", "23px")
            .text(opt.label);
    }

    function eyFmt(d) {
        return (d < 0 ? "-" : "") + Math.abs(d).toFixed(1).replace(".", ",");
    }
    function ezFmt(d) {
        return (d < 0 ? "-" : "") + Math.abs(d);
    }

    drawChart({
        top: 60, sub: "y", domain: [-0.4, 2.0], ticks: eyTicks, minor: eyMinor, fmt: eyFmt,
        fontSize: 18, stretch: 1.2, label: "Ey (mV/m)", labelMid: 230,
        panels: [ey110, ey107, ey105, ey102]
    });
    drawChart({
        top: 817, sub: "z", domain: [-5, 35], ticks: ezTicks, minor: ezMinor, fmt: ezFmt,
        fontSize: 16.5, stretch: 1.35, label: "Ez (mV/m)", labelMid: 265,
        panels: [ez110, ez107, ez105, ez102]
    });
})();
</script>
</body>
</html>
